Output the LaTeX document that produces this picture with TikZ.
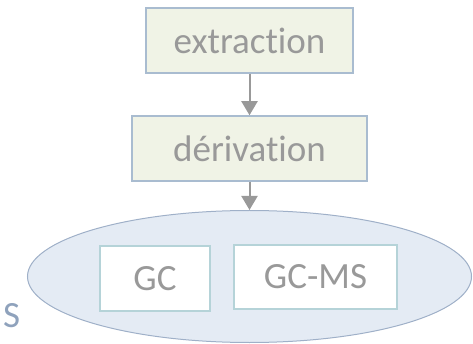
\documentclass[tikz,border=0pt]{standalone}
\usepackage{fontspec}
\setmainfont{Carlito}[Ligatures={NoCommon}]
\usetikzlibrary{arrows.meta,shapes.geometric}
\definecolor{boxfill}{HTML}{F0F3E6}
\definecolor{boxline}{HTML}{A9BCD0}
\definecolor{ellfill}{HTML}{E4EBF4}
\definecolor{ellline}{HTML}{9FB0C8}
\definecolor{instline}{HTML}{B5D3D8}
\definecolor{txtgray}{HTML}{999999}
\definecolor{sidetxt}{HTML}{8FA2BC}
\tikzset{
  stagebox/.style={draw=boxline, fill=boxfill, line width=1.5pt, minimum height=65pt,
    inner sep=0pt, text=txtgray, font=\fontsize{37}{40}\selectfont},
  instbox/.style={draw=instline, fill=white, line width=1.5pt, inner sep=0pt,
    text=txtgray, font=\fontsize{37}{40}\selectfont},
  arr/.style={draw=txtgray, line width=2pt, -{Triangle[width=16pt,length=14pt]}},
}
\begin{document}
\begin{tikzpicture}[x=1pt,y=-1pt]
  \useasboundingbox (0,0) rectangle (473,344);
  % analysis platform
  \node[ellipse, draw=ellline, fill=ellfill, line width=1pt, minimum width=444pt,
        minimum height=132pt, inner sep=0pt] (ell) at (249.5,276.5) {};
  \node[instbox, minimum width=110pt, minimum height=65pt] (gc) at (155,278.5) {GC};
  \node[instbox, minimum width=163pt, minimum height=64pt] (gcms) at (315.5,277) {GC-MS};
  % preparation steps
  \node[stagebox, minimum width=207pt] (ext) at (249.5,40.5) {extraction};
  \node[stagebox, minimum width=235pt] (der) at (249.5,148.5) {dérivation};
  \draw[arr] (ext) -- (der);
  \draw[arr] (der) -- (ell);
  % side label
  \node[anchor=base west, inner sep=0pt, text=sidetxt, font=\fontsize{37}{40}\selectfont]
    (side) at (3,327) {S};
\end{tikzpicture}
\end{document}
